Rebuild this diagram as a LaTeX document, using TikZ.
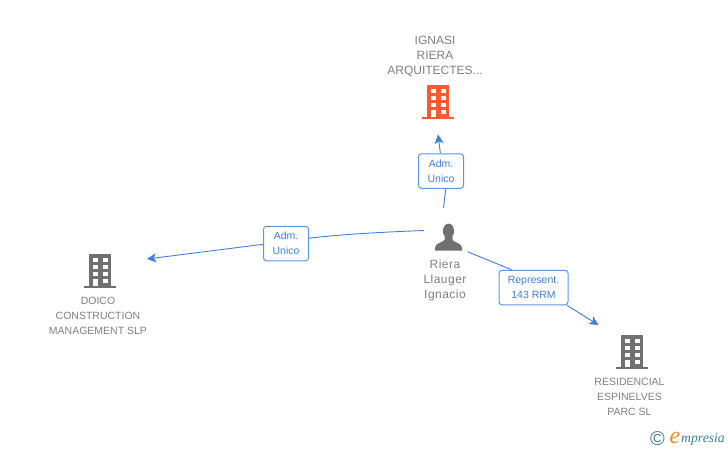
\documentclass[tikz,border=0pt]{standalone}
\usepackage{fontspec}
\setmainfont{Liberation Sans}
\newfontfamily\spacedfont[LetterSpace=4]{Liberation Sans}
\newfontfamily\logofont{Liberation Serif}
\usetikzlibrary{positioning,arrows.meta}
\definecolor{linkblue}{HTML}{3F7FDF}
\definecolor{boxblue}{HTML}{5A96E6}
\definecolor{icongray}{HTML}{707070}
\definecolor{textgray}{HTML}{808080}
\definecolor{iconorange}{HTML}{FF5A2D}
\definecolor{logoteal}{HTML}{3C7F96}
\definecolor{logoorange}{HTML}{F08A1E}
\tikzset{%
  link/.style     = { draw = linkblue, line width = 0.9pt },
  linkarrow/.style = { link, -{Stealth[length = 9pt, width = 9pt, inset = 2pt]} },
  rolebox/.style  = { draw = boxblue, fill = white, line width = 1pt, rounded corners = 3pt, align = center,
    text = linkblue, inner sep = 0pt, font = \fontsize{10.5}{15}\selectfont },
  namelabel/.style = { text = textgray, align = center, inner sep = 0pt, font = \fontsize{10.5}{15}\selectfont },
  pics/building/.style = { code = {
    \fill[#1] (-11,-17) rectangle (11,15);
    \fill[#1] (-16,15) rectangle (16,17);
    \foreach \wx in {-7.5,2.5} \foreach \wy in {-13.5,-6.5,0.5}
      \fill[white] (\wx,\wy) rectangle ++(5,4.7);
    \fill[white] (2.5,7.5) rectangle ++(5,4.7);
    \fill[white] (-7,7.5) rectangle (-2.5,15);
  }},
}
\newcommand{\rolelabel}[2]{#1\\#2}

\begin{document}
\begin{tikzpicture}[x=1pt,y=-1pt]
    \useasboundingbox (0,0) rectangle (728,450);
    % icons ----------------------------------------------------------------------------------------
    \pic at (438,102)  {building=iconorange};
    \pic at (100,271)  {building=icongray};
    \pic at (632,352)  {building=icongray};
    % person
    \fill[icongray] (448.5,231) ellipse (5.6 and 7.4);
    \fill[icongray] (444.5,237) -- (444.5,240) .. controls (442,243) and (435,243) .. (435,248)
      -- (435,250.5) -- (462,250.5) -- (462,248) .. controls (462,243) and (455,243) .. (452.5,240)
      -- (452.5,237) -- cycle;
    % names ----------------------------------------------------------------------------------------
    \node(ignasi)  [namelabel, font=\fontsize{12}{15}\selectfont] at (435,56.5)  {IGNASI\\RIERA\\ARQUITECTES...};
    \node(riera)   [namelabel, font=\fontsize{12}{15}\spacedfont] at (445,280) {Riera\\Llauger\\Ignacio};
    \node(doico)   [namelabel] at (98,315.7)  {DOICO\\CONSTRUCTION\\MANAGEMENT SLP};
    \node(espin)   [namelabel] at (629.5,396.7) {RESIDENCIAL\\ESPINELVES\\PARC SL};
    % role boxes -----------------------------------------------------------------------------------
    \node(roletop)   [rolebox, minimum width=45pt, minimum height=34.5pt] at (441,171)   {\rolelabel{Adm.}{Unico}};
    \node(roleleft)  [rolebox, minimum width=45pt, minimum height=34.5pt] at (286,243.5) {\rolelabel{Adm.}{Unico}};
    \node(roleright) [rolebox, minimum width=69pt, minimum height=34.5pt] at (533.5,287.5) {\rolelabel{Represent.}{143 RRM}};
    % connector ends
    \coordinate(ptop)   at (443.5,208);
    \coordinate(pleft)  at (424,230.5);
    \coordinate(pright) at (467.5,251.7);
    \coordinate(etop)   at (438,134.5);
    \coordinate(eleft)  at (147,259);
    \coordinate(eright) at (598.5,325);
    % arrows ---------------------------------------------------------------------------------------
    \draw[link]      (ptop)   -- (roletop.-75);
    \draw[linkarrow] (roletop.92) -- (etop);
    \draw[link]      (pleft)  .. controls (385,232) and (345,234) .. (roleleft.13);
    \draw[linkarrow] (roleleft.182) -- (eleft);
    \draw[link]      (pright) -- (roleright.141);
    \draw[linkarrow] (roleright.-28) -- (eright);
    % logo -----------------------------------------------------------------------------------------
    \node(logoc) [text=logoteal, inner sep=0pt, font=\fontsize{20}{20}\selectfont] at (657.5,438.5) {©};
    \node(logoe) [text=logoorange, inner sep=0pt, font=\fontsize{24}{24}\logofont\itshape, anchor=base east] at (680.5,443) {e};
    \node(logom) [text=logoteal, inner sep=0pt, font=\fontsize{13.7}{14}\logofont\itshape, anchor=base west] at (681,442) {mpresia};
  \end{tikzpicture}
\end{document}
